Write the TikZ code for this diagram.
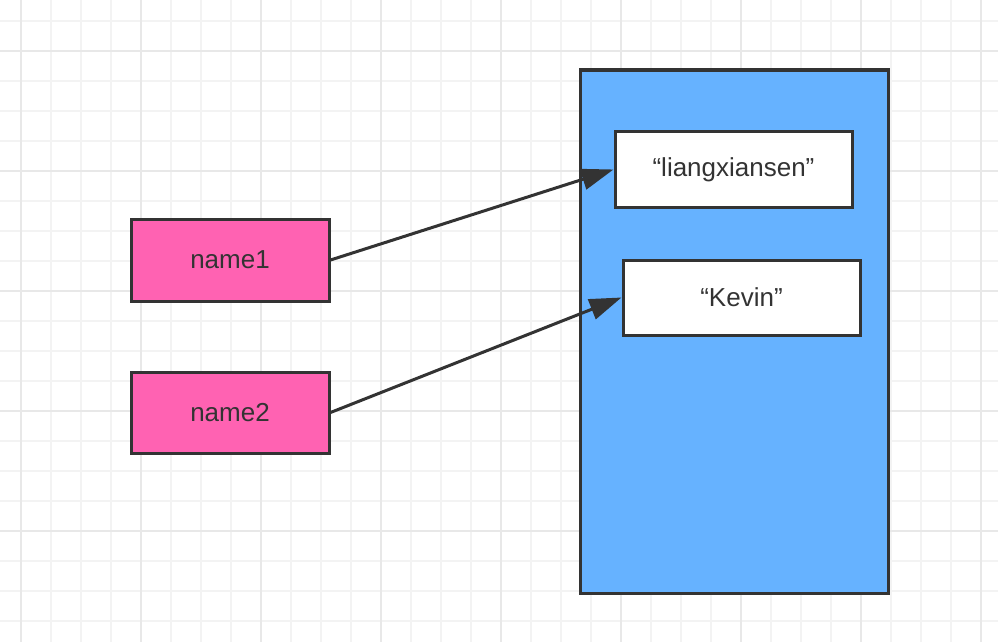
\documentclass[tikz,border=0pt]{standalone}
\usepackage{fontspec}
\setmainfont{Liberation Sans}
\usetikzlibrary{arrows.meta}
\definecolor{gridminor}{HTML}{F3F3F3}
\definecolor{gridmajor}{HTML}{E8E8E8}
\definecolor{edgegray}{HTML}{333333}
\definecolor{memblue}{HTML}{66B2FF}
\definecolor{varpink}{HTML}{FF62B2}
\tikzset{
  box/.style={draw=edgegray, line width=3pt, rectangle, inner sep=0pt,
    font=\fontsize{26}{30}\selectfont, text=edgegray},
  varbox/.style={box, fill=varpink, minimum width=198, minimum height=82},
  strbox/.style={box, fill=white, minimum width=237, minimum height=76},
  membox/.style={box, fill=memblue, minimum width=308, minimum height=523},
  ref/.style={draw=edgegray, line width=3pt,
    -{Triangle[length=32pt,width=21pt]}},
}
\begin{document}
\begin{tikzpicture}[x=1pt,y=-1pt]
\useasboundingbox (0,0) rectangle (998,642);
\fill[white] (0,0) rectangle (998,642);
\foreach \x in {21,51,...,981} \draw[gridminor, line width=1.1pt] (\x,0) -- (\x,642);
\foreach \y in {21,51,...,621} \draw[gridminor, line width=1.1pt] (0,\y) -- (998,\y);
\foreach \x in {21,141,...,981} \draw[gridmajor, line width=1.5pt] (\x,0) -- (\x,642);
\foreach \y in {51,171,...,531} \draw[gridmajor, line width=1.5pt] (0,\y) -- (998,\y);

\node[membox] (mem) at (734,331.5) {};
\node[strbox] (s1) at (733.5,169.5) {“liangxiansen”};
\node[strbox, minimum height=75] (s2) at (741.5,297.5) {“Kevin”};
\node[varbox] (n1) at (230,260) {name1};
\node[varbox, minimum height=81] (n2) at (230,412.5) {name2};

\draw[ref] (n1.east) -- (s1.west);
\draw[ref] (n2.east) -- (s2.west);
\end{tikzpicture}
\end{document}
